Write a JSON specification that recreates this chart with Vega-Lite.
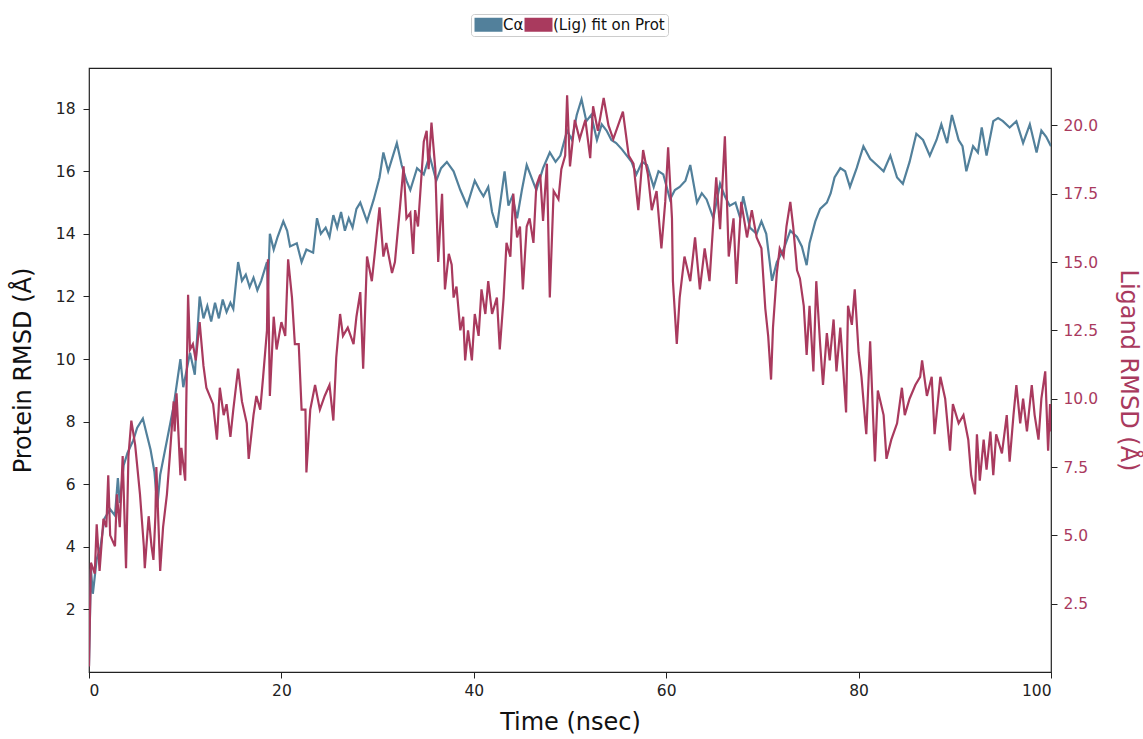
{
  "$schema": "https://vega.github.io/schema/vega-lite/v6.json",
  "autosize": {"type": "none"},
  "padding": {"left": 89, "top": 68, "right": 92, "bottom": 67},
  "width": 962,
  "height": 604,
  "background": "white",
  "config": {
    "font": "DejaVu Sans",
    "view": {"stroke": "#222", "strokeWidth": 1.2},
    "axis": {"grid": false, "domain": false, "tickColor": "#222", "tickSize": 6, "labelFontSize": 15.5, "labelColor": "#222", "titleFontSize": 24, "titleFontWeight": "normal", "titleColor": "#111"}
  },
  "datasets": {
    "protein": [
      {"time":0,"rmsd":0.2},{"time":0.2,"rmsd":3.3},{"time":0.4,"rmsd":2.5},{"time":0.8,"rmsd":3.6},{"time":1.2,"rmsd":4.0},{"time":1.6,"rmsd":4.9},{"time":2.2,"rmsd":5.2},{"time":2.7,"rmsd":5.0},{"time":3.0,"rmsd":6.2},{"time":3.2,"rmsd":5.4},{"time":3.6,"rmsd":6.6},{"time":4.0,"rmsd":7.0},{"time":4.6,"rmsd":7.4},{"time":5.0,"rmsd":7.8},{"time":5.6,"rmsd":8.1},{"time":6.0,"rmsd":7.6},{"time":6.4,"rmsd":7.1},{"time":6.8,"rmsd":6.4},{"time":7.1,"rmsd":5.3},{"time":7.4,"rmsd":6.3},{"time":8.1,"rmsd":7.4},{"time":8.8,"rmsd":8.5},{"time":9.5,"rmsd":10.0},{"time":9.8,"rmsd":9.1},{"time":10.5,"rmsd":10.2},{"time":11.0,"rmsd":9.5},{"time":11.5,"rmsd":12.0},{"time":11.9,"rmsd":11.3},{"time":12.3,"rmsd":11.7},{"time":12.7,"rmsd":11.2},{"time":13.1,"rmsd":11.8},{"time":13.5,"rmsd":11.3},{"time":13.9,"rmsd":11.9},{"time":14.3,"rmsd":11.5},{"time":14.7,"rmsd":11.8},{"time":15.0,"rmsd":11.6},{"time":15.5,"rmsd":13.1},{"time":15.9,"rmsd":12.5},{"time":16.3,"rmsd":12.7},{"time":16.7,"rmsd":12.3},{"time":17.1,"rmsd":12.6},{"time":17.5,"rmsd":12.2},{"time":17.9,"rmsd":12.5},{"time":18.5,"rmsd":13.1},{"time":18.6,"rmsd":12.2},{"time":18.8,"rmsd":14.0},{"time":19.2,"rmsd":13.5},{"time":19.6,"rmsd":13.9},{"time":20.2,"rmsd":14.4},{"time":20.6,"rmsd":14.1},{"time":20.9,"rmsd":13.6},{"time":21.6,"rmsd":13.7},{"time":22.1,"rmsd":13.1},{"time":22.6,"rmsd":13.5},{"time":23.3,"rmsd":13.4},{"time":23.7,"rmsd":14.5},{"time":24.1,"rmsd":14.0},{"time":24.6,"rmsd":14.2},{"time":25.0,"rmsd":13.9},{"time":25.4,"rmsd":14.6},{"time":25.8,"rmsd":14.2},{"time":26.2,"rmsd":14.7},{"time":26.6,"rmsd":14.1},{"time":27.0,"rmsd":14.5},{"time":27.4,"rmsd":14.2},{"time":27.8,"rmsd":14.8},{"time":28.2,"rmsd":15.0},{"time":28.9,"rmsd":14.4},{"time":29.6,"rmsd":15.1},{"time":30.2,"rmsd":15.8},{"time":30.6,"rmsd":16.6},{"time":31.1,"rmsd":16.0},{"time":31.6,"rmsd":16.5},{"time":32.0,"rmsd":16.9},{"time":32.5,"rmsd":16.2},{"time":33.0,"rmsd":15.7},{"time":33.4,"rmsd":15.4},{"time":34.1,"rmsd":16.1},{"time":34.8,"rmsd":15.9},{"time":35.4,"rmsd":16.5},{"time":36.1,"rmsd":15.7},{"time":36.6,"rmsd":16.1},{"time":37.2,"rmsd":16.3},{"time":37.9,"rmsd":16.0},{"time":38.6,"rmsd":15.4},{"time":39.3,"rmsd":14.9},{"time":40.1,"rmsd":15.7},{"time":40.6,"rmsd":15.4},{"time":41.0,"rmsd":15.2},{"time":41.5,"rmsd":15.5},{"time":41.9,"rmsd":14.7},{"time":42.4,"rmsd":14.2},{"time":43.2,"rmsd":16.0},{"time":43.6,"rmsd":14.9},{"time":44.0,"rmsd":15.2},{"time":44.5,"rmsd":14.5},{"time":45.0,"rmsd":15.4},{"time":45.5,"rmsd":16.2},{"time":46.0,"rmsd":15.8},{"time":46.5,"rmsd":15.4},{"time":47.2,"rmsd":16.1},{"time":47.9,"rmsd":16.6},{"time":48.5,"rmsd":16.3},{"time":49.0,"rmsd":16.5},{"time":49.7,"rmsd":17.3},{"time":50.2,"rmsd":17.0},{"time":50.7,"rmsd":17.8},{"time":51.2,"rmsd":18.3},{"time":51.7,"rmsd":17.6},{"time":52.2,"rmsd":17.8},{"time":52.8,"rmsd":17.0},{"time":53.3,"rmsd":17.5},{"time":53.8,"rmsd":17.3},{"time":54.3,"rmsd":17.0},{"time":54.8,"rmsd":16.9},{"time":55.4,"rmsd":16.7},{"time":55.9,"rmsd":16.5},{"time":56.4,"rmsd":16.3},{"time":56.9,"rmsd":15.9},{"time":57.5,"rmsd":16.3},{"time":58.0,"rmsd":16.2},{"time":58.7,"rmsd":15.5},{"time":59.2,"rmsd":16.0},{"time":59.7,"rmsd":15.9},{"time":60.4,"rmsd":15.1},{"time":60.9,"rmsd":15.4},{"time":61.4,"rmsd":15.5},{"time":62.0,"rmsd":15.7},{"time":62.5,"rmsd":16.2},{"time":63.2,"rmsd":15.0},{"time":63.7,"rmsd":15.3},{"time":64.2,"rmsd":15.1},{"time":64.9,"rmsd":14.5},{"time":65.6,"rmsd":15.6},{"time":66.1,"rmsd":15.2},{"time":66.6,"rmsd":14.9},{"time":67.2,"rmsd":15.0},{"time":67.7,"rmsd":14.5},{"time":68.0,"rmsd":15.2},{"time":68.7,"rmsd":14.2},{"time":69.4,"rmsd":14.0},{"time":69.9,"rmsd":14.4},{"time":70.4,"rmsd":14.0},{"time":71.0,"rmsd":12.5},{"time":71.5,"rmsd":13.1},{"time":72.2,"rmsd":13.5},{"time":72.9,"rmsd":14.1},{"time":73.6,"rmsd":13.9},{"time":74.1,"rmsd":13.6},{"time":74.6,"rmsd":13.0},{"time":74.9,"rmsd":13.7},{"time":75.5,"rmsd":14.4},{"time":76.0,"rmsd":14.8},{"time":76.7,"rmsd":15.0},{"time":77.1,"rmsd":15.3},{"time":77.5,"rmsd":15.8},{"time":78.1,"rmsd":16.1},{"time":78.6,"rmsd":16.0},{"time":79.1,"rmsd":15.5},{"time":79.8,"rmsd":16.1},{"time":80.5,"rmsd":16.8},{"time":81.2,"rmsd":16.4},{"time":81.9,"rmsd":16.2},{"time":82.6,"rmsd":16.0},{"time":83.3,"rmsd":16.5},{"time":84.0,"rmsd":15.8},{"time":84.6,"rmsd":15.6},{"time":85.3,"rmsd":16.3},{"time":86.0,"rmsd":17.2},{"time":86.7,"rmsd":17.0},{"time":87.4,"rmsd":16.5},{"time":88.1,"rmsd":17.0},{"time":88.6,"rmsd":17.5},{"time":89.2,"rmsd":16.9},{"time":89.7,"rmsd":17.8},{"time":90.4,"rmsd":17.0},{"time":90.8,"rmsd":16.8},{"time":91.2,"rmsd":16.0},{"time":91.9,"rmsd":16.8},{"time":92.4,"rmsd":16.6},{"time":92.8,"rmsd":17.4},{"time":93.3,"rmsd":16.5},{"time":94.0,"rmsd":17.6},{"time":94.5,"rmsd":17.7},{"time":95.0,"rmsd":17.6},{"time":95.7,"rmsd":17.4},{"time":96.4,"rmsd":17.6},{"time":97.1,"rmsd":16.9},{"time":97.8,"rmsd":17.5},{"time":98.5,"rmsd":16.6},{"time":99.0,"rmsd":17.3},{"time":99.5,"rmsd":17.1},{"time":100,"rmsd":16.8}
    ],
    "ligand": [
      {"time":0,"rmsd":0.2},{"time":0.2,"rmsd":4.0},{"time":0.6,"rmsd":3.6},{"time":0.8,"rmsd":5.4},{"time":1.1,"rmsd":3.7},{"time":1.5,"rmsd":5.6},{"time":1.8,"rmsd":5.3},{"time":2.0,"rmsd":7.2},{"time":2.2,"rmsd":5.0},{"time":2.7,"rmsd":4.6},{"time":2.9,"rmsd":6.5},{"time":3.2,"rmsd":5.3},{"time":3.5,"rmsd":7.9},{"time":3.85,"rmsd":3.8},{"time":4.1,"rmsd":7.9},{"time":4.4,"rmsd":9.2},{"time":4.8,"rmsd":8.3},{"time":5.3,"rmsd":6.5},{"time":5.7,"rmsd":4.6},{"time":5.8,"rmsd":3.8},{"time":6.2,"rmsd":5.7},{"time":6.5,"rmsd":4.6},{"time":6.7,"rmsd":4.1},{"time":6.9,"rmsd":5.7},{"time":7.0,"rmsd":7.5},{"time":7.4,"rmsd":3.7},{"time":7.7,"rmsd":5.3},{"time":8.1,"rmsd":6.5},{"time":8.4,"rmsd":7.9},{"time":8.8,"rmsd":9.9},{"time":8.9,"rmsd":8.8},{"time":9.1,"rmsd":10.2},{"time":9.5,"rmsd":7.2},{"time":9.6,"rmsd":8.2},{"time":10.0,"rmsd":7.0},{"time":10.1,"rmsd":9.6},{"time":10.3,"rmsd":13.8},{"time":10.5,"rmsd":11.8},{"time":10.8,"rmsd":12.0},{"time":11.1,"rmsd":11.4},{"time":11.5,"rmsd":12.8},{"time":11.9,"rmsd":11.2},{"time":12.2,"rmsd":10.4},{"time":12.9,"rmsd":9.8},{"time":13.3,"rmsd":8.5},{"time":13.6,"rmsd":10.4},{"time":14.0,"rmsd":9.4},{"time":14.3,"rmsd":9.8},{"time":14.7,"rmsd":8.6},{"time":15.0,"rmsd":9.6},{"time":15.5,"rmsd":11.1},{"time":15.9,"rmsd":9.9},{"time":16.4,"rmsd":9.1},{"time":16.6,"rmsd":7.8},{"time":17.1,"rmsd":9.4},{"time":17.4,"rmsd":10.1},{"time":17.8,"rmsd":9.6},{"time":18.1,"rmsd":10.8},{"time":18.5,"rmsd":12.5},{"time":18.6,"rmsd":15.1},{"time":18.8,"rmsd":10.1},{"time":19.2,"rmsd":13.0},{"time":19.5,"rmsd":11.8},{"time":20.0,"rmsd":12.8},{"time":20.4,"rmsd":12.3},{"time":20.7,"rmsd":15.1},{"time":21.1,"rmsd":13.7},{"time":21.4,"rmsd":12.0},{"time":21.8,"rmsd":12.0},{"time":22.1,"rmsd":9.6},{"time":22.5,"rmsd":9.6},{"time":22.6,"rmsd":7.3},{"time":23.0,"rmsd":9.6},{"time":23.5,"rmsd":10.5},{"time":24.0,"rmsd":9.6},{"time":24.5,"rmsd":10.1},{"time":25.0,"rmsd":10.5},{"time":25.4,"rmsd":9.2},{"time":25.7,"rmsd":11.5},{"time":26.1,"rmsd":13.1},{"time":26.4,"rmsd":12.3},{"time":26.9,"rmsd":12.6},{"time":27.5,"rmsd":12.0},{"time":27.8,"rmsd":13.0},{"time":28.2,"rmsd":13.9},{"time":28.5,"rmsd":11.1},{"time":28.9,"rmsd":15.2},{"time":29.4,"rmsd":14.3},{"time":29.7,"rmsd":15.3},{"time":30.2,"rmsd":17.0},{"time":30.6,"rmsd":15.2},{"time":30.9,"rmsd":15.7},{"time":31.5,"rmsd":14.6},{"time":31.8,"rmsd":15.0},{"time":32.3,"rmsd":16.9},{"time":32.7,"rmsd":18.5},{"time":33.0,"rmsd":16.6},{"time":33.4,"rmsd":16.8},{"time":33.7,"rmsd":15.3},{"time":33.9,"rmsd":16.9},{"time":34.2,"rmsd":16.3},{"time":34.8,"rmsd":19.4},{"time":35.1,"rmsd":19.8},{"time":35.3,"rmsd":18.4},{"time":35.6,"rmsd":20.1},{"time":36.0,"rmsd":18.4},{"time":36.3,"rmsd":15.0},{"time":36.7,"rmsd":17.5},{"time":37.0,"rmsd":14.0},{"time":37.4,"rmsd":15.3},{"time":37.7,"rmsd":14.9},{"time":37.9,"rmsd":13.7},{"time":38.2,"rmsd":14.1},{"time":38.6,"rmsd":12.5},{"time":38.9,"rmsd":13.0},{"time":39.1,"rmsd":11.4},{"time":39.4,"rmsd":12.5},{"time":39.8,"rmsd":11.4},{"time":40.1,"rmsd":13.1},{"time":40.5,"rmsd":12.3},{"time":40.8,"rmsd":14.0},{"time":41.2,"rmsd":13.1},{"time":41.5,"rmsd":14.3},{"time":41.9,"rmsd":13.1},{"time":42.4,"rmsd":13.7},{"time":42.7,"rmsd":11.8},{"time":43.1,"rmsd":13.7},{"time":43.4,"rmsd":15.7},{"time":43.8,"rmsd":15.2},{"time":44.1,"rmsd":17.5},{"time":44.5,"rmsd":15.9},{"time":44.8,"rmsd":16.3},{"time":45.1,"rmsd":14.0},{"time":45.5,"rmsd":16.3},{"time":45.8,"rmsd":16.6},{"time":46.2,"rmsd":15.7},{"time":46.5,"rmsd":17.8},{"time":46.9,"rmsd":18.2},{"time":47.2,"rmsd":16.5},{"time":47.6,"rmsd":18.6},{"time":47.9,"rmsd":13.7},{"time":48.3,"rmsd":17.6},{"time":48.8,"rmsd":17.3},{"time":49.1,"rmsd":18.4},{"time":49.5,"rmsd":18.9},{"time":49.7,"rmsd":21.1},{"time":50.0,"rmsd":18.5},{"time":50.5,"rmsd":20.2},{"time":51.0,"rmsd":19.5},{"time":51.6,"rmsd":20.2},{"time":52.1,"rmsd":18.8},{"time":52.4,"rmsd":20.7},{"time":52.9,"rmsd":19.8},{"time":53.5,"rmsd":21.0},{"time":54.0,"rmsd":20.0},{"time":54.5,"rmsd":19.5},{"time":55.0,"rmsd":20.0},{"time":55.5,"rmsd":20.5},{"time":56.1,"rmsd":18.9},{"time":56.6,"rmsd":18.6},{"time":57.1,"rmsd":16.9},{"time":57.6,"rmsd":19.1},{"time":58.1,"rmsd":18.2},{"time":58.5,"rmsd":16.9},{"time":59.0,"rmsd":17.6},{"time":59.5,"rmsd":15.5},{"time":59.9,"rmsd":17.2},{"time":60.2,"rmsd":19.2},{"time":60.6,"rmsd":16.6},{"time":60.7,"rmsd":14.3},{"time":61.1,"rmsd":12.0},{"time":61.4,"rmsd":13.7},{"time":61.9,"rmsd":15.2},{"time":62.5,"rmsd":14.3},{"time":63.0,"rmsd":15.9},{"time":63.5,"rmsd":14.0},{"time":64.0,"rmsd":15.5},{"time":64.5,"rmsd":14.3},{"time":65.2,"rmsd":18.1},{"time":65.6,"rmsd":16.2},{"time":66.1,"rmsd":19.6},{"time":66.5,"rmsd":15.2},{"time":67.0,"rmsd":16.6},{"time":67.3,"rmsd":14.2},{"time":67.8,"rmsd":17.2},{"time":68.4,"rmsd":15.9},{"time":68.9,"rmsd":16.9},{"time":69.4,"rmsd":15.9},{"time":69.9,"rmsd":15.5},{"time":70.3,"rmsd":13.3},{"time":70.6,"rmsd":12.3},{"time":70.9,"rmsd":10.7},{"time":71.1,"rmsd":12.6},{"time":71.5,"rmsd":14.6},{"time":71.8,"rmsd":15.5},{"time":72.2,"rmsd":15.2},{"time":72.5,"rmsd":16.3},{"time":72.9,"rmsd":17.2},{"time":73.2,"rmsd":16.3},{"time":73.6,"rmsd":14.7},{"time":73.9,"rmsd":14.4},{"time":74.3,"rmsd":13.4},{"time":74.6,"rmsd":11.6},{"time":74.9,"rmsd":13.4},{"time":75.3,"rmsd":11.0},{"time":75.6,"rmsd":14.3},{"time":76.0,"rmsd":12.0},{"time":76.3,"rmsd":10.5},{"time":76.7,"rmsd":12.4},{"time":77.0,"rmsd":11.4},{"time":77.4,"rmsd":12.9},{"time":77.7,"rmsd":11.0},{"time":78.1,"rmsd":12.6},{"time":78.4,"rmsd":11.1},{"time":78.7,"rmsd":9.5},{"time":78.9,"rmsd":13.4},{"time":79.3,"rmsd":12.7},{"time":79.6,"rmsd":14.0},{"time":80.0,"rmsd":11.7},{"time":80.3,"rmsd":10.8},{"time":80.7,"rmsd":9.1},{"time":80.8,"rmsd":8.7},{"time":81.2,"rmsd":12.1},{"time":81.5,"rmsd":9.4},{"time":81.7,"rmsd":7.7},{"time":82.0,"rmsd":10.3},{"time":82.6,"rmsd":9.4},{"time":82.9,"rmsd":7.8},{"time":83.4,"rmsd":8.5},{"time":84.0,"rmsd":9.1},{"time":84.5,"rmsd":10.4},{"time":84.8,"rmsd":9.4},{"time":85.3,"rmsd":10.0},{"time":85.9,"rmsd":10.5},{"time":86.4,"rmsd":10.8},{"time":86.6,"rmsd":11.4},{"time":87.1,"rmsd":10.1},{"time":87.6,"rmsd":10.8},{"time":87.9,"rmsd":8.7},{"time":88.5,"rmsd":10.8},{"time":89.0,"rmsd":10.0},{"time":89.5,"rmsd":8.1},{"time":89.8,"rmsd":9.8},{"time":90.4,"rmsd":9.1},{"time":90.9,"rmsd":9.4},{"time":91.4,"rmsd":8.5},{"time":91.7,"rmsd":7.2},{"time":92.1,"rmsd":6.5},{"time":92.3,"rmsd":8.7},{"time":92.6,"rmsd":7.0},{"time":93.0,"rmsd":8.5},{"time":93.3,"rmsd":7.4},{"time":93.7,"rmsd":8.8},{"time":94.0,"rmsd":7.2},{"time":94.3,"rmsd":8.7},{"time":94.9,"rmsd":8.0},{"time":95.4,"rmsd":9.4},{"time":95.7,"rmsd":7.7},{"time":96.1,"rmsd":9.4},{"time":96.4,"rmsd":10.5},{"time":96.8,"rmsd":9.1},{"time":97.1,"rmsd":10.0},{"time":97.5,"rmsd":8.8},{"time":98.0,"rmsd":10.5},{"time":98.3,"rmsd":9.4},{"time":98.7,"rmsd":8.5},{"time":99.0,"rmsd":10.0},{"time":99.4,"rmsd":11.0},{"time":99.7,"rmsd":8.1},{"time":99.9,"rmsd":9.8},{"time":100,"rmsd":8.8}
    ]
  },
  "layer": [
    {
      "data": {"name": "protein"},
      "mark": {"type": "line", "strokeWidth": 2.2, "interpolate": "linear", "clip": true},
      "encoding": {
        "x": {"field": "time", "type": "quantitative", "scale": {"domain": [0, 100], "nice": false}, "axis": {"values": [0, 20, 40, 60, 80, 100], "title": "Time (nsec)", "titlePadding": 12, "labelPadding": 5}},
        "y": {"field": "rmsd", "type": "quantitative", "scale": {"domain": [0, 19.3], "nice": false, "zero": false}, "axis": {"orient": "left", "values": [2, 4, 6, 8, 10, 12, 14, 16, 18], "title": "Protein RMSD (Å)", "titlePadding": 20, "labelPadding": 8}},
        "color": {"datum": "Cα", "type": "nominal", "scale": {"domain": ["Cα", "(Lig) fit on Prot"], "range": ["#52809b", "#a93a5e"]}, "legend": {"orient": "none", "legendX": 382, "legendY": -54, "direction": "horizontal", "title": null, "symbolType": "M-1,-1H3V1H-1Z", "symbolSize": 196, "symbolStrokeWidth": 0, "symbolOpacity": 1, "labelFontSize": 15, "labelColor": "#111", "labelOffset": 14, "columnPadding": 0, "strokeColor": "#cccccc", "fillColor": "white", "cornerRadius": 3, "padding": 3, "encode": {"symbols": {"update": {"fill": {"scale": "color", "field": "value"}, "strokeWidth": {"value": 0}}}}}}
      }
    },
    {
      "data": {"name": "ligand"},
      "mark": {"type": "line", "strokeWidth": 2.2, "interpolate": "linear", "clip": true},
      "encoding": {
        "x": {"field": "time", "type": "quantitative"},
        "y": {"field": "rmsd", "type": "quantitative", "scale": {"domain": [0, 22.1], "nice": false, "zero": false}, "axis": {"orient": "right", "values": [2.5, 5, 7.5, 10, 12.5, 15, 17.5, 20], "format": ".1f", "labelColor": "#a93a5e", "tickColor": "#222", "title": "Ligand RMSD (Å)", "titleColor": "#a93a5e", "titlePadding": 18, "labelPadding": 6}},
        "color": {"datum": "(Lig) fit on Prot", "type": "nominal"}
      }
    }
  ],
  "resolve": {"scale": {"y": "independent"}}
}
